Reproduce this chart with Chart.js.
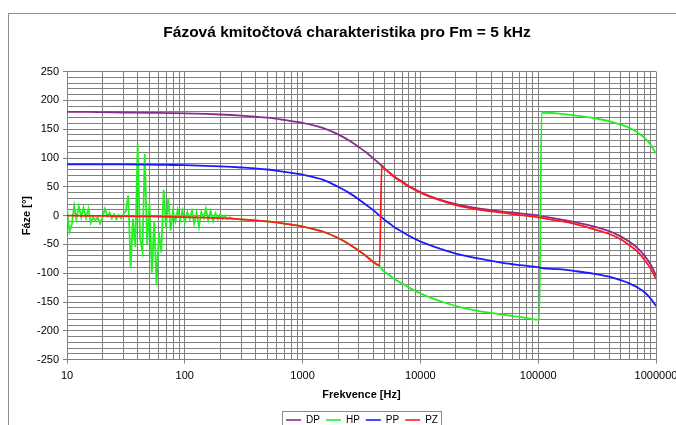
<!DOCTYPE html>
<html>
<head>
<meta charset="utf-8">
<script src="https://cdn.jsdelivr.net/npm/chart.js@4.4.1/dist/chart.umd.min.js"></script>
<style>
  html, body { margin: 0; padding: 0; background: #fff; overflow: hidden; }
  #wrap { position: relative; width: 676px; height: 435px; }
</style>
</head>
<body>
<div id="wrap"><canvas id="phase" width="676" height="435"></canvas></div>
<script>
// frequency grid shared by DP, PP and PZ [Hz]
const freq = [10, 15, 20, 30, 50, 70, 100, 150, 200, 300, 500, 700, 1000, 1500, 2000, 2500, 3000, 3500, 4000, 4500, 4700,
  5000, 5500, 6000, 7000, 8000, 10000, 12000, 15000, 20000, 30000, 50000, 70000, 102000, 107000,
  150000, 200000, 300000, 400000, 500000, 600000, 700000, 800000, 900000, 1000000];

// phase [deg]
const dp = [180, 180, 179.5, 179, 178.5, 178, 177.5, 176.5, 175.5, 173.5, 170, 166, 161, 152, 141, 130, 119, 109, 99, 90, 86,
  81, 74, 68, 59, 51, 41, 34, 27, 20, 13, 7, 4, 0, -1,
  -6, -11, -19, -27, -36, -46, -57, -70, -85, -104];
const pp = [89, 89, 89, 89, 88.5, 88, 87.5, 86.5, 85.5, 83.5, 80, 76, 71, 62, 50, 39, 28, 18, 9, 0, -3,
  -8, -14, -20, -28, -35, -45, -51, -58, -66, -74, -82, -86, -90, -91,
  -93, -96, -101, -106, -112, -118, -125, -133, -144, -157];
const pz = [0, -0.5, -0.5, -1, -1.5, -2, -2.5, -3.5, -4.5, -6.5, -10, -14, -19, -28, -39, -50, -61, -71, -81, -87, 87,
  81, 74, 67, 58, 50, 40, 33, 26, 18, 11, 5, 1, -3, -4,
  -9, -14, -24, -32, -41, -52, -63, -77, -92, -110];

// HP output, low-frequency part (noisy measurement)
const freqHpLow = [10, 10.5, 11, 11.5, 12, 12.6, 13.2, 13.8, 14.5, 15.2, 15.9, 16.6, 17.4, 18.2, 19.1, 20, 21, 22, 23, 24,
  25.1, 26.3, 27.5, 28.8, 30.2, 31.6, 33.1, 34.7, 36.3, 38, 39.8, 41.7, 43.7, 45.7, 47.9, 50.1, 52.5, 55, 57.5, 60.3,
  63.1, 66.1, 69.2, 72.4, 75.9, 79.4, 83.2, 87.1, 91.2, 95.5, 100, 105, 110, 115, 120, 126, 132, 138, 145, 151,
  158, 166, 174, 182, 191, 200, 209, 219, 229, 240, 251];
const hpLow = [12, -28, -15, 17, -6, 16, -3, 14, -4, 12, -13, -3, -8, -3, -14, -4, 12, -1, 5, -5,
  2, -6, 1, -5, 3, 8, 35, -90, -5, -55, 124, -40, -62, 107, -50, 20, -99, -10, -120, -30,
  -64, 45, -20, 30, -26, 8, -10, 10, -8, 9, -12, 6, -6, 8, -14, 5, -20, 6, -4, 12,
  -8, 8, -10, 4, -6, 3, -5, 0, -6, -3, -5];

// HP output, smooth part
const freqHp = [251, 300, 500, 700, 1000, 1500, 2000, 2500, 3000, 3500, 4000, 4500, 4700,
  5000, 5500, 6000, 7000, 8000, 10000, 12000, 15000, 20000, 30000, 50000, 70000, 102000, 107000,
  150000, 200000, 300000, 400000, 500000, 600000, 700000, 800000, 900000, 1000000];
const hp = [-5, -6.5, -10, -14, -19, -28, -39, -50, -61, -71, -81, -87, -93,
  -98, -104, -110, -118, -125, -135, -142, -149, -157, -165, -172, -176, -181, 179,
  177, 174, 169, 164, 158, 152, 144, 135, 123, 108];

const xTicks = [10, 20, 30, 40, 50, 60, 70, 80, 90, 100, 200, 300, 400, 500, 600, 700, 800, 900, 1000,
  2000, 3000, 4000, 5000, 6000, 7000, 8000, 9000, 10000, 20000, 30000, 40000, 50000, 60000, 70000, 80000, 90000,
  100000, 200000, 300000, 400000, 500000, 600000, 700000, 800000, 900000, 1000000];
const xLabels = [10, 100, 1000, 10000, 100000, 1000000];

const pts = (xs, ys) => xs.map((x, i) => ({ x: x, y: ys[i] }));

Chart.defaults.font.family = "'Liberation Sans', Arial, sans-serif";
Chart.defaults.font.size = 11;
Chart.defaults.color = '#000';

const gridCol = '#808080';
const colDP = '#8e2a8e', colHP = '#22f022', colPP = '#1a1aff', colPZ = '#ff1a1a';

const series = (label, data, color, order, smooth) => ({
  label: label,
  data: data,
  borderColor: color,
  backgroundColor: color,
  pointBorderColor: color,
  pointBackgroundColor: color,
  pointBorderWidth: 1.6,
  cubicInterpolationMode: smooth ? 'monotone' : 'default',
  order: order
});

// outer frame of the chart, legend shifted right and boxed
const framePlugin = {
  id: 'frame',
  afterLayout(chart) {
    chart.legend.left += 15;
    chart.legend.right += 15;
  },
  beforeDraw(chart) {
    const c = chart.ctx;
    c.save();
    c.fillStyle = '#fff';
    c.fillRect(0, 0, chart.width, chart.height);
    c.strokeStyle = '#8c8c8c';
    c.lineWidth = 1;
    c.strokeRect(8.5, 13.5, 700, 500);
    c.restore();
  },
  afterDraw(chart) {
    const boxes = chart.legend.legendHitBoxes;
    if (!boxes || !boxes.length) return;
    const first = boxes[0], last = boxes[boxes.length - 1];
    const c = chart.ctx;
    c.save();
    c.strokeStyle = '#8c8c8c';
    c.lineWidth = 1;
    const l = Math.round(first.left - 4) + 0.5;
    const r = Math.round(last.left + last.width + 3) + 0.5;
    const t = Math.round(first.top - 4) + 0.5;
    c.strokeRect(l, t, r - l, first.height + 10);
    c.restore();
  }
};

new Chart(document.getElementById('phase'), {
  type: 'line',
  data: {
    datasets: [
      series('DP', pts(freq, dp), colDP, 4, true),
      series('HP', pts(freqHpLow, hpLow), colHP, 3, false),
      series('PP', pts(freq, pp), colPP, 1, true),
      series('PZ', pts(freq, pz), colPZ, 0, true),
      series('HP', pts(freqHp, hp), colHP, 2, true)
    ]
  },
  options: {
    responsive: false,
    animation: false,
    devicePixelRatio: 1,
    elements: {
      line: { borderWidth: 1.8, tension: 0, fill: false },
      point: { radius: 0, hoverRadius: 0 }
    },
    layout: { padding: { left: 18, right: 0, top: 0, bottom: 0 } },
    plugins: {
      title: {
        display: true,
        text: 'Fázová kmitočtová charakteristika pro Fm = 5 kHz',
        font: { size: 15.5, weight: 'bold' },
        color: '#000',
        padding: { top: 23, bottom: 30 }
      },
      legend: {
        position: 'bottom',
        labels: {
          usePointStyle: true,
          pointStyle: 'line',
          pointStyleWidth: 15,
          padding: 6,
          font: { size: 10 },
          filter: (item) => item.datasetIndex < 4,
          sort: (a, b) => a.datasetIndex - b.datasetIndex
        }
      },
      tooltip: { enabled: false }
    },
    scales: {
      x: {
        type: 'logarithmic',
        min: 10,
        max: 1000000,
        afterBuildTicks: (scale) => { scale.ticks = xTicks.map(v => ({ value: v })); },
        afterFit: (scale) => { scale.paddingRight = 20; },
        ticks: {
          autoSkip: false,
          maxRotation: 0,
          padding: 6,
          callback: (v) => xLabels.includes(v) ? String(v) : ''
        },
        grid: {
          color: gridCol,
          tickLength: 4,
          tickColor: (ctx) => xLabels.includes(ctx.tick && ctx.tick.value) ? gridCol : 'rgba(0,0,0,0)'
        },
        border: { color: gridCol },
        title: {
          display: true,
          text: 'Frekvence [Hz]',
          font: { size: 11, weight: 'bold' },
          padding: { top: 0, bottom: 7 }
        }
      },
      y: {
        min: -250,
        max: 250,
        afterFit: (scale) => { scale.width = 49; },
        ticks: {
          stepSize: 10,
          autoSkip: false,
          padding: 4,
          callback: (v) => v % 50 === 0 ? String(v) : ''
        },
        grid: {
          color: gridCol,
          tickLength: 4,
          tickColor: (ctx) => (ctx.tick && ctx.tick.value % 50 === 0) ? gridCol : 'rgba(0,0,0,0)'
        },
        border: { color: gridCol },
        title: {
          display: true,
          text: 'Fáze [°]',
          font: { size: 11, weight: 'bold' },
          padding: { top: 2, bottom: 0 }
        }
      }
    }
  },
  plugins: [framePlugin]
});
</script>
</body>
</html>
